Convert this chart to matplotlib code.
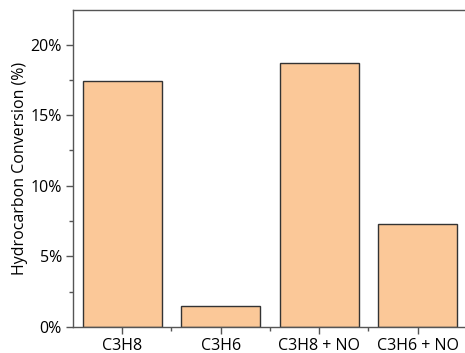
import matplotlib
matplotlib.use("Agg")
from matplotlib import pyplot as plt
from matplotlib.ticker import MultipleLocator, PercentFormatter, FixedLocator

# Data
categories = ["C3H8", "C3H6", "C3H8 + NO", "C3H6 + NO"]
conversion = [17.45, 1.5, 18.7, 7.3]

plt.rcParams['font.family'] = ['Open Sans', 'DejaVu Sans']
plt.rcParams['font.size'] = 11.5

fig = plt.figure(figsize=(4.65, 3.53), dpi=100)
ax = fig.add_axes([0.157, 0.0737, 0.847, 0.898])

x = range(len(categories))
ax.bar(x, conversion, width=0.8, color="#FBC898", edgecolor="#333333", linewidth=1.0)

ax.set_xlim(-0.5, 3.5)
ax.set_ylim(0, 22.45)
ax.set_xticks(list(x))
ax.set_xticklabels(categories)
ax.xaxis.set_minor_locator(FixedLocator([0.5, 1.5, 2.5]))
ax.yaxis.set_major_locator(MultipleLocator(5))
ax.yaxis.set_minor_locator(MultipleLocator(2.5))
ax.yaxis.set_major_formatter(PercentFormatter(decimals=0))

ax.set_ylabel("Hydrocarbon Conversion (%)", fontsize=11.5, labelpad=2)

for side in ["left", "bottom", "top"]:
    ax.spines[side].set_color("#555555")
    ax.spines[side].set_linewidth(1.0)
ax.spines["right"].set_visible(False)
ax.tick_params(which="major", direction="out", length=5, width=1, color="#555555", labelcolor="black", pad=3)
ax.tick_params(which="minor", direction="out", length=3, width=1, color="#555555")

fig.savefig("out.png", dpi=100)
